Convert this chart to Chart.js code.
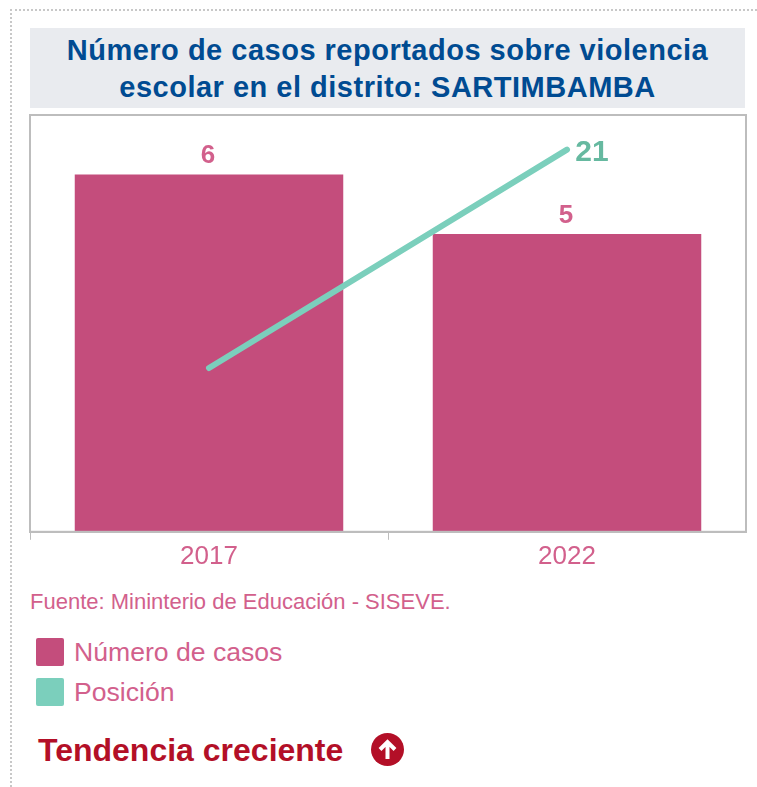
<!DOCTYPE html>
<html lang="es">
<head>
<meta charset="utf-8">
<title>Violencia escolar - Sartimbamba</title>
<script src="https://cdn.jsdelivr.net/npm/chart.js@4"></script>
<style>
    html, body { margin: 0; padding: 0; background: #fff; overflow: hidden; }
    body { width: 757px; height: 787px; position: relative; font-family: "Liberation Sans", Arial, sans-serif; }
    .marco { position: absolute; left: 10px; top: 9px; width: 747px; height: 778px; border-top: 2px dotted #c8c8c8; border-left: 2px dotted #c8c8c8; box-sizing: border-box; }
    .titulo { position: absolute; left: 30px; top: 28px; width: 715px; height: 80px; background: #e9ebef; color: #004b92; font-weight: bold; font-size: 29px; letter-spacing: 0.5px; line-height: 37px; text-align: center; padding-top: 4px; box-sizing: border-box; }
    #grafico { position: absolute; left: 20px; top: 105px; }
    .fuente { position: absolute; left: 30px; top: 590px; font-size: 22px; line-height: 24px; color: #d2608c; white-space: nowrap; }
    .leyenda { position: absolute; left: 74px; font-size: 26.6px; line-height: 30px; color: #d2608c; white-space: nowrap; }
    .cuadro { position: absolute; left: 36px; width: 28px; height: 28px; border-radius: 2px; }
    .tendencia { position: absolute; left: 38px; top: 732px; font-size: 32px; line-height: 36px; font-weight: bold; color: #b30f27; white-space: nowrap; }
    .flecha { position: absolute; left: 371px; top: 733px; }
</style>
</head>
<body>
<div class="marco"></div>
<div class="titulo">Número de casos reportados sobre violencia<br>escolar en el distrito: SARTIMBAMBA</div>
<canvas id="grafico" width="737" height="468"></canvas>
<div class="fuente">Fuente: Mininterio de Educación - SISEVE.</div>
<div class="cuadro" style="top:638px;background:#c44d7c"></div>
<div class="leyenda" style="top:637px">Número de casos</div>
<div class="cuadro" style="top:678px;background:#7bcfbc"></div>
<div class="leyenda" style="top:677px">Posición</div>
<div class="tendencia">Tendencia creciente</div>
<svg class="flecha" width="33" height="33" viewBox="0 0 33 33">
    <circle cx="16.5" cy="16.5" r="16.5" fill="#b30f27"/>
    <path d="M16.5 26 V9 M9 16.5 L16.5 9 L24 16.5" fill="none" stroke="#fff" stroke-width="4"/>
</svg>
<script>
const categorias = ["2017", "2022"];
const numeroCasos = [6, 5];
const posicion = [9, 21];

const COLOR_BARRA = "#c44d7c";
const COLOR_LINEA = "#7bcfbc";

// marco gris alrededor del area del grafico y etiquetas de valor
const extras = {
    id: "extras",
    afterDatasetsDraw(chart) {
        const { ctx, chartArea: a } = chart;
        ctx.save();
        ctx.strokeStyle = "#bdbdbd";
        ctx.lineWidth = 2;
        ctx.strokeRect(a.left, a.top, a.right - a.left, a.bottom - a.top);
        ctx.textAlign = "center";
        ctx.textBaseline = "middle";
        ctx.font = "bold 26px 'Liberation Sans'";
        ctx.fillStyle = "#d2608c";
        chart.getDatasetMeta(1).data.forEach((bar, i) => {
            ctx.fillText(numeroCasos[i], bar.x - 1, bar.y - 18.5);
        });
        const last = chart.getDatasetMeta(0).data[posicion.length - 1];
        ctx.font = "bold 30px 'Liberation Sans'";
        ctx.fillStyle = "#66b9a0";
        ctx.fillText(posicion[posicion.length - 1], last.x + 25, last.y + 3);
        ctx.restore();
    }
};

new Chart(document.getElementById("grafico"), {
    data: {
        labels: categorias,
        datasets: [
            { type: "line", label: "Posición", data: posicion, yAxisID: "y2", borderColor: COLOR_LINEA, backgroundColor: COLOR_LINEA, borderWidth: 6, borderCapStyle: "round", pointRadius: 0, tension: 0, order: 0 },
            { type: "bar", label: "Número de casos", data: numeroCasos, yAxisID: "y", backgroundColor: COLOR_BARRA, barPercentage: 0.75, categoryPercentage: 1, order: 1 }
        ]
    },
    options: {
        responsive: false,
        animation: false,
        layout: { padding: { left: 10, right: 11, top: 10, bottom: 0 } },
        plugins: { legend: { display: false }, title: { display: false }, tooltip: { enabled: false } },
        scales: {
            x: {
                offset: true,
                grid: {
                    drawOnChartArea: false,
                    drawTicks: true,
                    tickLength: 8,
                    // la marca del extremo derecho no aparece en el original
                    color: c => c.type === "tick" ? "#bdbdbd" : "rgba(0,0,0,0)"
                },
                border: { color: "#bdbdbd", width: 2 },
                ticks: { color: "#d2608c", font: { family: "Liberation Sans", size: 26 }, padding: 1, maxRotation: 0 }
            },
            y: { display: false, min: 0, max: 7 },
            y2: { display: false, min: 0, max: 22.9 }
        }
    },
    plugins: [extras]
});
</script>
</body>
</html>
